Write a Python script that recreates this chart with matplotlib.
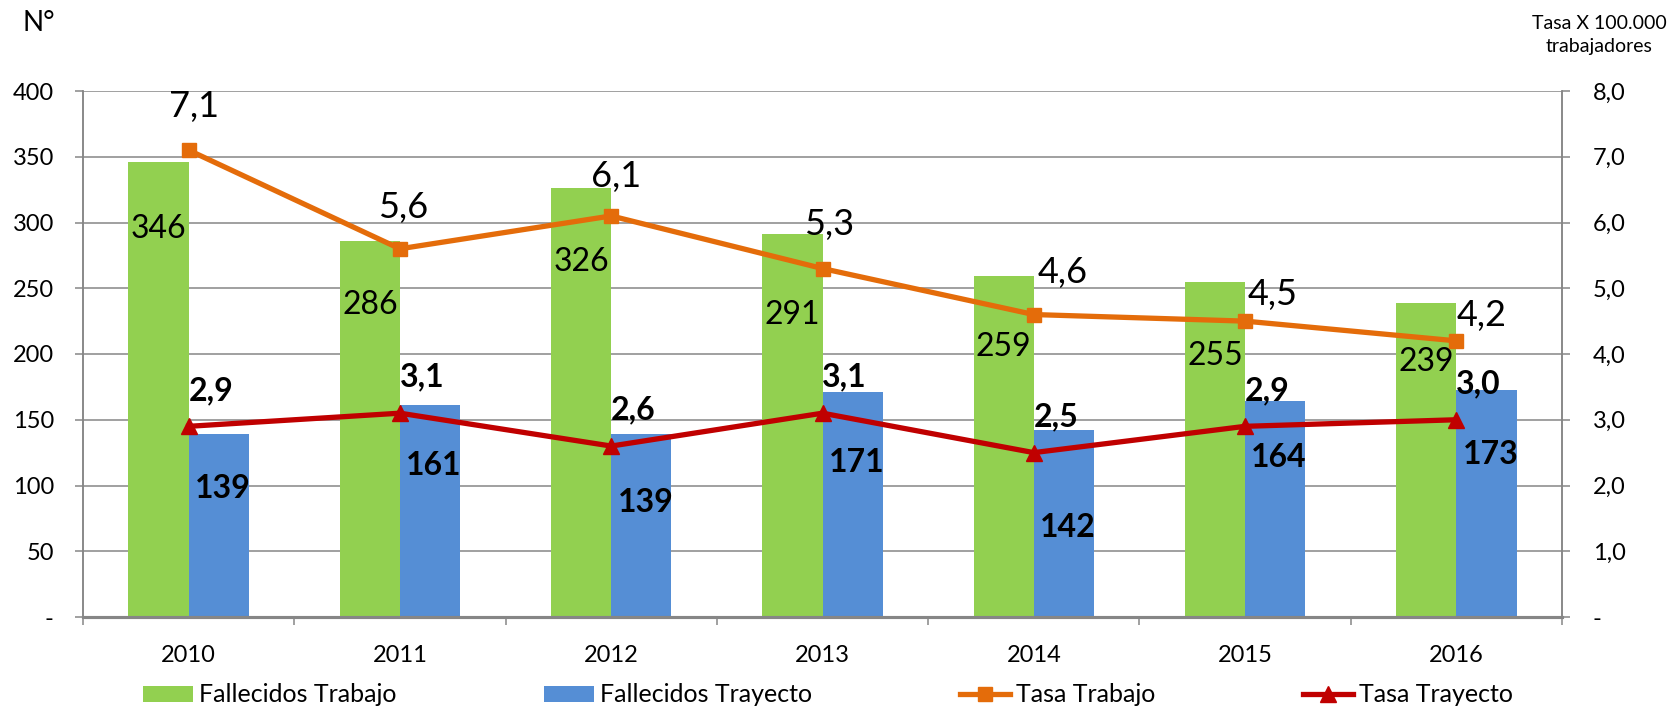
import matplotlib
matplotlib.use("Agg")
import matplotlib.pyplot as plt
from matplotlib.ticker import FixedLocator, FuncFormatter
import numpy as np

# ---- data ----
years = ["2010", "2011", "2012", "2013", "2014", "2015", "2016"]
fallecidos_trabajo = [346, 286, 326, 291, 259, 255, 239]
fallecidos_trayecto = [139, 161, 139, 171, 142, 164, 173]
tasa_trabajo = [7.1, 5.6, 6.1, 5.3, 4.6, 4.5, 4.2]
tasa_trayecto = [2.9, 3.1, 2.6, 3.1, 2.5, 2.9, 3.0]

# ---- style ----
GREEN = "#92D050"
BLUE = "#558ED5"
ORANGE = "#E46C0A"
RED = "#C00000"
GRAY = "#868686"
FONT = "Lato"
# pixel offsets of the data labels (label placement, as in the original chart)
green_label_dy = [-67, -64, -74, -81, -71, -74, -59]
blue_label_dy = [-54, -60, -68, -70, -97, -56, -65]
tt_label_dx = [5, 3, 5, 7, 29, 28, 25]
tt_label_dy = [44, 41, 39, 44, 42, 27, 25]

plt.rcParams["font.family"] = [FONT, "DejaVu Sans"]

W, H = 1676, 712
fig = plt.figure(figsize=(W / 100, H / 100), dpi=100)
ax = fig.add_axes([83 / W, 1 - 617 / H, (1562 - 83) / W, (617 - 91) / H])
ax2 = ax.twinx()

x = np.arange(len(years))
bw = 0.285
b1 = ax.bar(x - bw / 2, fallecidos_trabajo, bw, color=GREEN, zorder=2, label="Fallecidos Trabajo")
b2 = ax.bar(x + bw / 2, fallecidos_trayecto, bw, color=BLUE, zorder=2, label="Fallecidos Trayecto")

l1, = ax2.plot(x, tasa_trabajo, color=ORANGE, lw=3.8, marker="s", ms=10.5, zorder=3, label="Tasa Trabajo")
l2, = ax2.plot(x, tasa_trayecto, color=RED, lw=3.8, marker="^", ms=12, zorder=3, label="Tasa Trayecto")

ax.set_xlim(-0.5, len(years) - 0.5)
ax.set_ylim(0, 400)
ax2.set_ylim(0, 8)

ax.set_axisbelow(True)
ax.yaxis.set_major_locator(FixedLocator(np.arange(0, 401, 50)))
ax.yaxis.set_major_formatter(FuncFormatter(lambda v, p: "-" if v == 0 else f"{v:.0f}"))
ax2.yaxis.set_major_locator(FixedLocator(np.arange(0, 9, 1)))
ax2.yaxis.set_major_formatter(FuncFormatter(lambda v, p: "-" if v == 0 else f"{v:.1f}".replace(".", ",")))
ax.grid(axis="y", color=GRAY, lw=1.1, zorder=0)

ax.set_xticks(x)
ax.set_xticklabels(years)
ax.set_xticks(np.arange(-0.5, len(years), 1), minor=True)
ax.tick_params(axis="x", which="major", length=0, pad=20, labelsize=17)
ax.tick_params(axis="x", which="minor", length=6, width=1.1, color=GRAY)
ax.tick_params(axis="y", length=6, width=1.1, color=GRAY, pad=15, labelsize=17)
ax2.tick_params(axis="y", length=6, width=1.1, color=GRAY, pad=16, labelsize=17)

for a in (ax, ax2):
    a.spines["top"].set_visible(False)
    a.spines["left"].set_color(GRAY)
    a.spines["right"].set_color(GRAY)
    a.spines["left"].set_linewidth(1.1)
    a.spines["right"].set_linewidth(1.1)
    a.spines["bottom"].set_color(GRAY)
    a.spines["bottom"].set_linewidth(2.2)

# ---- data labels ----
for i, v in enumerate(fallecidos_trabajo):
    ax.annotate(f"{v}", (x[i] - bw / 2, v), xytext=(0, green_label_dy[i]), textcoords="offset pixels",
                ha="center", va="center", fontsize=23, zorder=5)
for i, v in enumerate(fallecidos_trayecto):
    ax.annotate(f"{v}", (x[i] + bw / 2, v), xytext=(4, blue_label_dy[i]), textcoords="offset pixels",
                ha="center", va="center", fontsize=23, fontweight="bold", zorder=5)
for i, v in enumerate(tasa_trabajo):
    ax2.annotate(f"{v:.1f}".replace(".", ","), (x[i], v), xytext=(tt_label_dx[i], tt_label_dy[i]),
                 textcoords="offset pixels", ha="center", va="center", fontsize=26, zorder=5)
for i, v in enumerate(tasa_trayecto):
    ax2.annotate(f"{v:.1f}".replace(".", ","), (x[i], v), xytext=(22, 36),
                 textcoords="offset pixels", ha="center", va="center", fontsize=23,
                 fontweight="bold", zorder=5)

# ---- axis titles ----
fig.text(39 / W, 1 - 23 / H, "N°", ha="center", va="center", fontsize=20)
fig.text(1599 / W, 1 - 35 / H, "Tasa X 100.000\ntrabajadores", ha="center", va="center",
         fontsize=14, linespacing=1.4)

# ---- legend ----
fig.legend(handles=[b1, b2, l1, l2], loc="center", bbox_to_anchor=(0.494, 0.024),
           ncol=4, frameon=False, fontsize=18, handlelength=2.0, handletextpad=0.25,
           columnspacing=5.9, borderpad=0, handleheight=0.6)

fig.savefig("out.png", dpi=100)
